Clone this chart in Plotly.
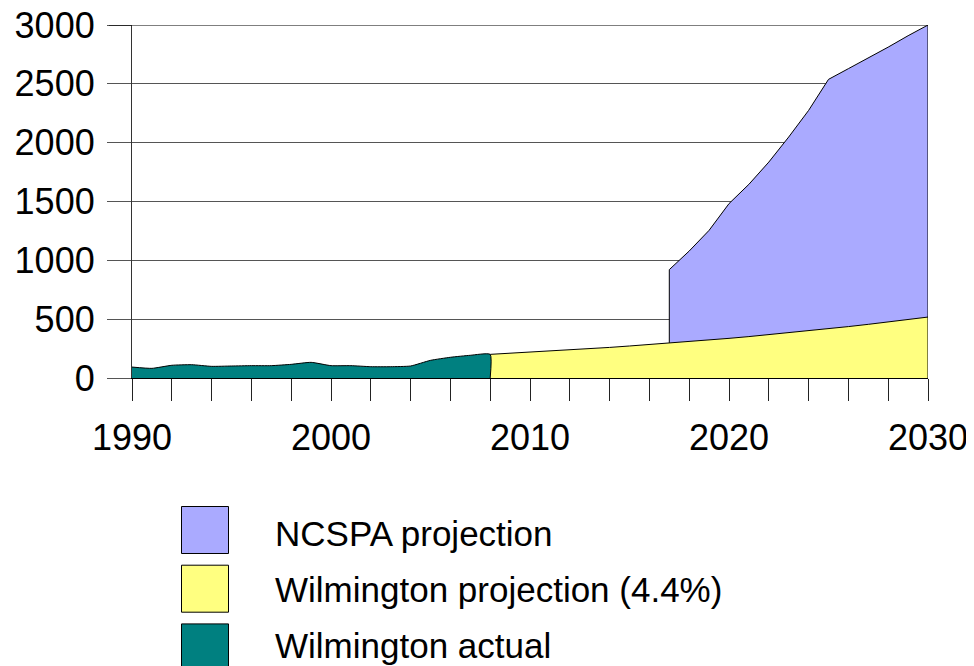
import plotly.graph_objects as go

# ---- data ----
actual_years = list(range(1990, 2009))
actual_vals = [93, 82, 108, 113, 99, 102, 105, 105, 116, 133, 105, 105, 96, 96, 102, 150, 176, 193, 201]

proj_years = list(range(2008, 2031))
proj_vals = [201, 210, 219, 229, 239, 249, 260, 272, 284, 297, 310, 323, 337, 352,
             368, 384, 401, 418, 437, 456, 476, 497, 518]

ncspa_years = list(range(2017, 2031))
ncspa_vals = [921, 1079, 1255, 1482, 1646, 1835, 2048, 2274, 2538, 2629, 2719, 2812, 2909, 3000]

legend_labels = ["NCSPA projection", "Wilmington projection (4.4%)", "Wilmington actual"]
colors = ["#AAAAFF", "#FFFF80", "#008080"]

x_ticks = list(range(1990, 2031, 2))
x_ticktext = [str(v) if v % 10 == 0 else "" for v in x_ticks]
Y_MAX = 3000

FONT = "Liberation Sans, Arial, sans-serif"

fig = go.Figure()

fig.add_trace(go.Scatter(
    x=[ncspa_years[0]] + ncspa_years + [ncspa_years[-1]],
    y=[0] + ncspa_vals + [0],
    fill="tozeroy", fillcolor=colors[0], mode="lines",
    line=dict(color="black", width=1), showlegend=False, hoverinfo="skip"))

fig.add_trace(go.Scatter(
    x=proj_years + [proj_years[-1]],
    y=proj_vals + [0],
    fill="tozeroy", fillcolor=colors[1], mode="lines",
    line=dict(color="black", width=1), showlegend=False, hoverinfo="skip"))

fig.add_trace(go.Scatter(
    x=actual_years + [actual_years[-1]],
    y=actual_vals + [0],
    fill="tozeroy", fillcolor=colors[2], mode="lines",
    line=dict(color="black", width=1, shape="spline", smoothing=0.5),
    showlegend=False, hoverinfo="skip"))

# page offset (browser body margin)
OFF = 8
W, H = 974, 666
# target plot box in screenshot pixels
PX0, PX1, PY0, PY1 = 132, 928, 25, 378
L = PX0 - OFF
T = PY0 - OFF
R = W - (PX1 - OFF)
B = H - (PY1 - OFF)
pw, ph = PX1 - PX0, PY1 - PY0

def px_to_paper_x(px):
    return (px - PX0) / pw

def px_to_paper_y(py):
    return (PY1 - py) / ph

shapes = [dict(type="line", xref="paper", yref="y",
               x0=px_to_paper_x(109), x1=1, y0=Y_MAX, y1=Y_MAX,
               line=dict(color="black", width=1.2), layer="above")]
annotations = []
text_centers = [533, 589, 645]
for i, (lab, col) in enumerate(zip(legend_labels, colors)):
    top = 506.5 + i * 58.7
    bot = top + 47
    shapes.append(dict(type="rect", xref="paper", yref="paper",
                       x0=px_to_paper_x(181.5), x1=px_to_paper_x(228.5),
                       y0=px_to_paper_y(bot), y1=px_to_paper_y(top),
                       fillcolor=col, line=dict(color="black", width=1)))
    annotations.append(dict(xref="paper", yref="paper",
                            x=px_to_paper_x(273), y=px_to_paper_y(text_centers[i]),
                            xanchor="left", yanchor="middle", showarrow=False,
                            text=lab, font=dict(family=FONT, size=35, color="black")))

fig.update_layout(
    width=W, height=H,
    margin=dict(l=L, r=R, t=T, b=B, autoexpand=False),
    plot_bgcolor="white", paper_bgcolor="white",
    font=dict(family=FONT, size=36, color="black"),
    shapes=shapes, annotations=annotations,
    xaxis=dict(range=[1990, 2030], tickvals=x_ticks, ticktext=x_ticktext,
               ticks="outside", ticklen=22, tickcolor="#222222", tickwidth=1,
               showline=True, linecolor="black", linewidth=1,
               showgrid=False, zeroline=False, automargin=False,
               ticklabelstandoff=6, ticklabeloverflow="allow",
               tickfont=dict(family=FONT, size=36)),
    yaxis=dict(range=[0, Y_MAX], dtick=500, tick0=0,
               ticks="outside", ticklen=24, tickcolor="#555555", tickwidth=1,
               showline=True, linecolor="#333333", linewidth=1.2,
               showgrid=True, gridcolor="#555555", gridwidth=1,
               zeroline=False, automargin=False,
               ticklabelstandoff=5, ticklabeloverflow="allow",
               tickfont=dict(family=FONT, size=36)),
)

fig.write_html("out.html")
